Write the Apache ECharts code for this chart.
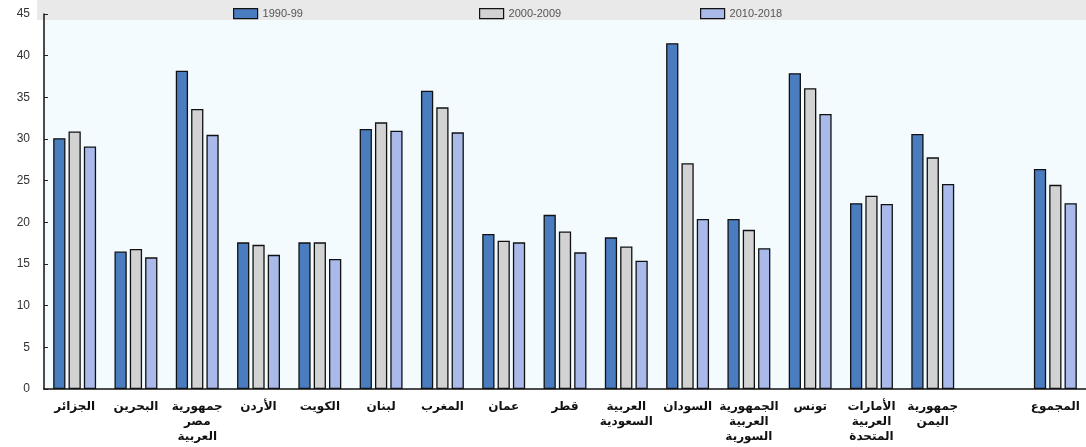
<!DOCTYPE html>
<html>
<head>
<meta charset="utf-8">
<script src="https://cdn.jsdelivr.net/npm/echarts@6/dist/echarts.min.js"></script>
<style>
html,body{margin:0;padding:0;background:#fff;}
#chart{width:1086px;height:447px;}
</style>
</head>
<body>
<div id="chart"></div>
<script>
// Country labels (Arabic), one slot left empty before the total
const categories = [
  'الجزائر', 'البحرين', 'جمهورية\nمصر\nالعربية', 'الأردن', 'الكويت', 'لبنان',
  'المغرب', 'عمان', 'قطر', 'العربية\nالسعودية', 'السودان',
  'الجمهورية\nالعربية\nالسورية', 'تونس', 'الأمارات\nالعربية\nالمتحدة',
  'جمهورية\nاليمن', '', 'المجموع'
];
const seriesNames = ['1990-99', '2000-2009', '2010-2018'];
const values1990 = [30.1, 16.5, 38.2, 17.6, 17.6, 31.2, 35.8, 18.6, 20.9, 18.2, 41.5, 20.4, 37.9, 22.3, 30.6, null, 26.4];
const values2000 = [30.9, 16.8, 33.6, 17.3, 17.6, 32.0, 33.8, 17.8, 18.9, 17.1, 27.1, 19.1, 36.1, 23.2, 27.8, null, 24.5];
const values2010 = [29.1, 15.8, 30.5, 16.1, 15.6, 31.0, 30.8, 17.6, 16.4, 15.4, 20.4, 16.9, 33.0, 22.2, 24.6, null, 22.3];
const yTicks = { min: 0, max: 45, step: 5 };

const colors = ['#4a7dc0', '#d2d2d2', '#a9b9ea'];
const chart = echarts.init(document.getElementById('chart'));

function legendFor(i, left) {
  return {
    data: [seriesNames[i]],
    left: left, top: 3,
    itemWidth: 24, itemHeight: 10, itemGap: 0,
    icon: 'rect',
    textStyle: { fontFamily: 'Liberation Sans, Arial, sans-serif', fontSize: 11, color: '#555', padding: [0, 0, 0, 0] },
    itemStyle: { borderColor: '#111', borderWidth: 1.2 }
  };
}

chart.setOption({
  animation: false,
  color: colors,
  graphic: [{
    type: 'rect', z: 0, silent: true,
    shape: { x: 37, y: 0, width: 1049, height: 20 },
    style: { fill: '#e9e9e9' }
  }],
  legend: [legendFor(0, 228), legendFor(1, 474), legendFor(2, 695)],
  grid: {
    left: 44, right: 0, top: 14, bottom: 58,
    show: true, backgroundColor: '#f3fbff', borderWidth: 0
  },
  xAxis: {
    type: 'category',
    data: categories,
    axisLine: { lineStyle: { color: '#111', width: 1.5 } },
    axisTick: { inside: true, length: 4, lineStyle: { color: '#222' } },
    axisLabel: {
      interval: 0, margin: 10, lineHeight: 15,
      fontFamily: 'DejaVu Sans, sans-serif', fontWeight: 'bold', fontSize: 12, color: '#111'
    }
  },
  yAxis: {
    type: 'value',
    min: yTicks.min, max: yTicks.max, interval: yTicks.step,
    axisLine: { show: true, lineStyle: { color: '#111', width: 1.5 } },
    axisTick: { show: true, inside: true, length: 4, lineStyle: { color: '#222' } },
    splitLine: { show: false },
    axisLabel: { margin: 14, fontFamily: 'Liberation Sans, Arial, sans-serif', fontSize: 12, color: '#333' }
  },
  series: [values1990, values2000, values2010].map((vals, i) => ({
    name: seriesNames[i],
    type: 'bar',
    data: vals,
    barGap: '25%',
    barCategoryGap: '30%',
    itemStyle: { color: colors[i], borderColor: '#111', borderWidth: 1.3 }
  }))
});
</script>
</body>
</html>
